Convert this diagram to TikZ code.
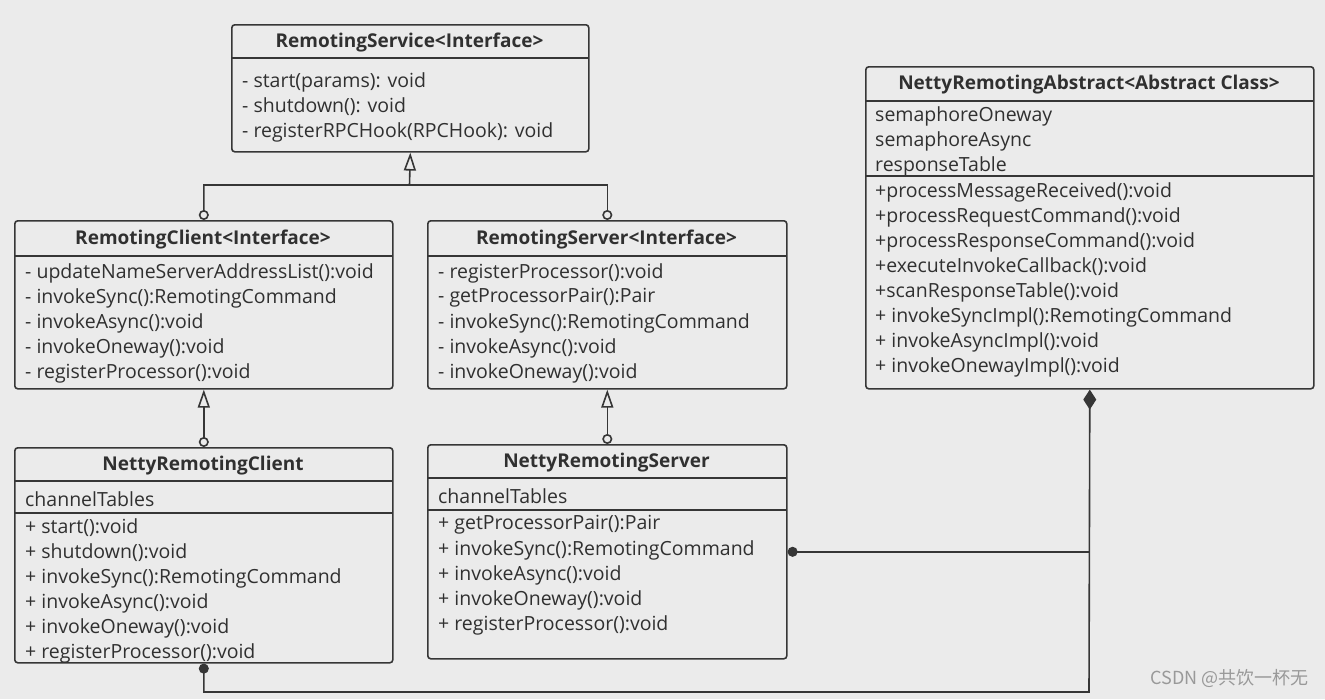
\documentclass[tikz,border=0pt]{standalone}
\usepackage{fontspec}
\setmainfont{Open Sans}
\newfontfamily\cjk{Noto Sans CJK SC}
\usetikzlibrary{arrows.meta}
\definecolor{bgc}{HTML}{EBEBEB}
\definecolor{ink}{HTML}{363636}
\definecolor{txc}{HTML}{303030}
\tikzset{
  umlbox/.style={draw=ink, line width=1.6pt, rounded corners=3pt, inner sep=0pt, anchor=north west},
  ttl/.style={font=\fontsize{19}{22}\selectfont\bfseries, text=txc, inner sep=0pt},
  mem/.style={font=\fontsize{19.5}{22}\selectfont, text=txc, inner sep=0pt, anchor=west},
  sep/.style={draw=ink, line width=1.3pt},
  conn/.style={draw=ink, line width=1.6pt},
  ocirc/.tip={Circle[open, length=10pt, width=10pt, line width=1.6pt]},
  otri/.tip={Triangle[open, length=18pt, width=12pt, line width=1.6pt]},
  gen/.style={conn, ocirc-otri},
  fdot/.tip={Circle[length=10pt, width=10pt]},
  comp/.style={conn, fdot-{Diamond[length=20pt, width=13pt]}},
}
\begin{document}
\begin{tikzpicture}[x=1pt, y=-1pt]
\fill[bgc] (0,0) rectangle (1325,699);
\useasboundingbox (0,0) rectangle (1325,699);

% RemotingService
\node[umlbox, minimum width=357pt, minimum height=127pt] (svc) at (231,24) {};
\node[ttl] (svct) at (409.5,43) {RemotingService<Interface>};
\draw[sep] (231,58) -- (588,58);
\foreach \t [count=\i] in {{- start(params): void},{- shutdown(): void},{- registerRPCHook(RPCHook): void}}
  \node[mem] (svcm\i) at (242,57+25*\i) {\t};

% RemotingClient
\node[umlbox, minimum width=378pt, minimum height=168pt] (rc) at (14,220) {};
\node[ttl] (rct) at (203,240) {RemotingClient<Interface>};
\draw[sep] (14,256) -- (392,256);
\foreach \t [count=\i] in {{- updateNameServerAddressList():void},{- invokeSync():RemotingCommand},{- invokeAsync():void},{- invokeOneway():void},{- registerProcessor():void}}
  \node[mem] (rcm\i) at (25,248+25*\i) {\t};

% RemotingServer
\node[umlbox, minimum width=359pt, minimum height=168pt] (rs) at (427,220) {};
\node[ttl] (rst) at (606.5,240) {RemotingServer<Interface>};
\draw[sep] (427,256) -- (786,256);
\foreach \t [count=\i] in {{- registerProcessor():void},{- getProcessorPair():Pair},{- invokeSync():RemotingCommand},{- invokeAsync():void},{- invokeOneway():void}}
  \node[mem] (rsm\i) at (438,248+25*\i) {\t};

% NettyRemotingClient
\node[umlbox, minimum width=378pt, minimum height=215pt] (nrc) at (14,447) {};
\node[ttl] (nrct) at (203,466) {NettyRemotingClient};
\draw[sep] (14,481) -- (392,481);
\node[mem] (nrca) at (25,499) {channelTables};
\draw[sep] (14,513) -- (392,513);
\foreach \t [count=\i] in {{+ start():void},{+ shutdown():void},{+ invokeSync():RemotingCommand},{+ invokeAsync():void},{+ invokeOneway():void},{+ registerProcessor():void}}
  \node[mem] (nrcm\i) at (25,503+25*\i) {\t};

% NettyRemotingServer
\node[umlbox, minimum width=359pt, minimum height=214pt] (nrs) at (427,444) {};
\node[ttl] (nrst) at (606.5,463) {NettyRemotingServer};
\draw[sep] (427,478) -- (786,478);
\node[mem] (nrsa) at (438,496) {channelTables};
\draw[sep] (427,510) -- (786,510);
\foreach \t [count=\i] in {{+ getProcessorPair():Pair},{+ invokeSync():RemotingCommand},{+ invokeAsync():void},{+ invokeOneway():void},{+ registerProcessor():void}}
  \node[mem] (nrsm\i) at (438,500+25*\i) {\t};

% NettyRemotingAbstract
\node[umlbox, minimum width=448pt, minimum height=322pt] (abs) at (865,66) {};
\node[ttl] (abst) at (1089,85) {NettyRemotingAbstract<Abstract Class>};
\draw[sep] (865,101) -- (1313,101);
\foreach \t [count=\i] in {semaphoreOneway,semaphoreAsync,responseTable}
  \node[mem] (absa\i) at (875,91+25*\i) {\t};
\draw[sep] (865,176) -- (1313,176);
\foreach \t [count=\i] in {{+processMessageReceived():void},{+processRequestCommand():void},{+processResponseCommand():void},{+executeInvokeCallback():void},{+scanResponseTable():void},{+ invokeSyncImpl():RemotingCommand},{+ invokeAsyncImpl():void},{+ invokeOnewayImpl():void}}
  \node[mem] (absm\i) at (875,167+25*\i) {\t};

% connectors
\coordinate (j) at (409.5,185);
\draw[gen] (rc.north) |- (j) -- (svc.south);
\draw[conn, ocirc-] (rs.north) |- (j);
\draw[gen] (nrc.north) -- (rc.south);
\draw[gen] (nrs.north) -- (rs.south);
\coordinate (bot) at (1089,692);
\draw[comp] (nrc.south) |- (bot) -- (abs.south);
\draw[conn, fdot-] (nrs.east) -- (nrs.east -| abs.south);

% watermark
\node[font=\cjk\fontsize{18}{20}\selectfont, text=black!40, anchor=east, inner sep=0pt] (wm) at (1309,678) {CSDN @共饮一杯无};
\end{tikzpicture}
\end{document}
